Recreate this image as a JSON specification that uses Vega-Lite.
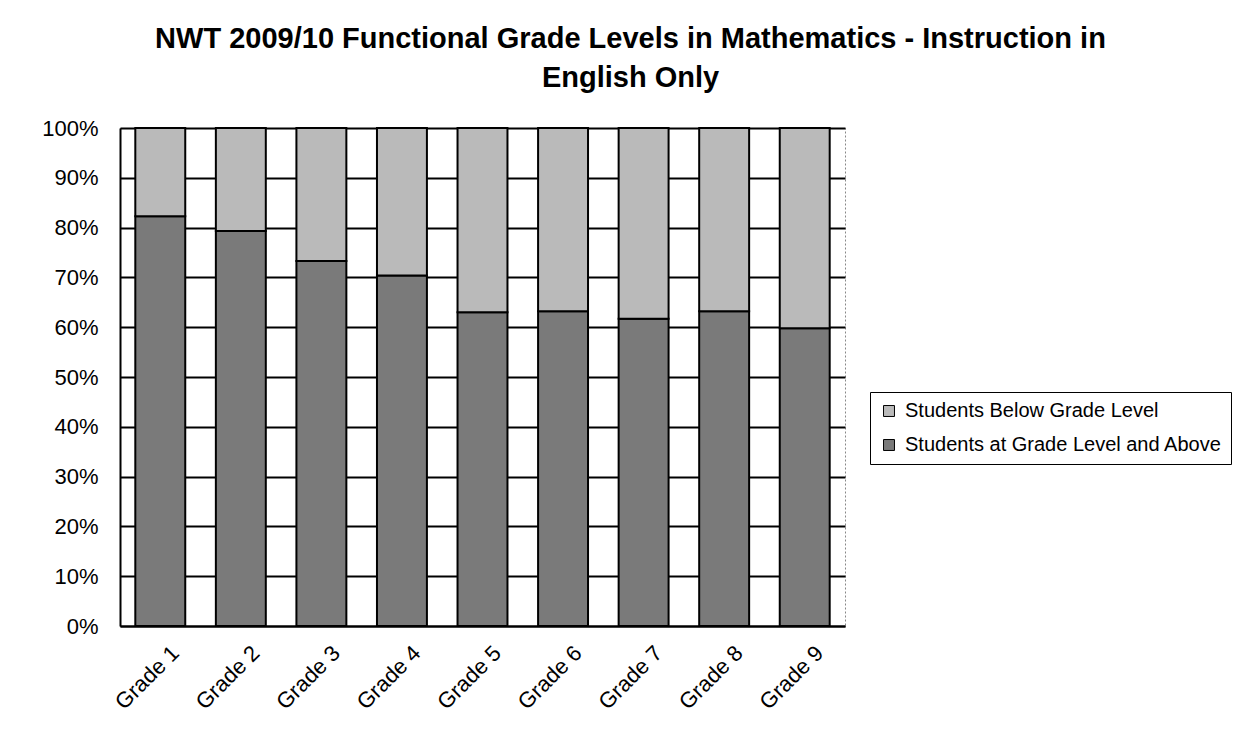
{
  "$schema": "https://vega.github.io/schema/vega-lite/v6.json",
  "autosize": "none",
  "width": 725,
  "height": 498,
  "padding": {"left": 120, "top": 128, "right": 393, "bottom": 127},
  "background": "white",
  "title": {
    "text": ["NWT 2009/10 Functional Grade Levels in Mathematics - Instruction in", "English Only"],
    "font": "Liberation Sans",
    "fontSize": 29,
    "fontWeight": "bold",
    "color": "black",
    "anchor": "middle",
    "frame": "group",
    "dx": 148,
    "lineHeight": 39,
    "offset": 24
  },
  "data": {
    "values": [
      {"grade": "Grade 1", "category": "Students at Grade Level and Above", "value": 0.823},
      {"grade": "Grade 1", "category": "Students Below Grade Level", "value": 0.177},
      {"grade": "Grade 2", "category": "Students at Grade Level and Above", "value": 0.793},
      {"grade": "Grade 2", "category": "Students Below Grade Level", "value": 0.207},
      {"grade": "Grade 3", "category": "Students at Grade Level and Above", "value": 0.733},
      {"grade": "Grade 3", "category": "Students Below Grade Level", "value": 0.267},
      {"grade": "Grade 4", "category": "Students at Grade Level and Above", "value": 0.704},
      {"grade": "Grade 4", "category": "Students Below Grade Level", "value": 0.296},
      {"grade": "Grade 5", "category": "Students at Grade Level and Above", "value": 0.63},
      {"grade": "Grade 5", "category": "Students Below Grade Level", "value": 0.37},
      {"grade": "Grade 6", "category": "Students at Grade Level and Above", "value": 0.632},
      {"grade": "Grade 6", "category": "Students Below Grade Level", "value": 0.368},
      {"grade": "Grade 7", "category": "Students at Grade Level and Above", "value": 0.617},
      {"grade": "Grade 7", "category": "Students Below Grade Level", "value": 0.383},
      {"grade": "Grade 8", "category": "Students at Grade Level and Above", "value": 0.632},
      {"grade": "Grade 8", "category": "Students Below Grade Level", "value": 0.368},
      {"grade": "Grade 9", "category": "Students at Grade Level and Above", "value": 0.598},
      {"grade": "Grade 9", "category": "Students Below Grade Level", "value": 0.402}
    ]
  },
  "mark": {"type": "bar", "stroke": "black", "strokeWidth": 2},
  "encoding": {
    "x": {
      "field": "grade",
      "type": "nominal",
      "title": null,
      "scale": {"paddingInner": 0.38, "paddingOuter": 0.19},
      "axis": {
        "labelAngle": -45,
        "labelFont": "Liberation Sans",
        "labelFontSize": 22,
        "labelColor": "black",
        "ticks": false,
        "domainColor": "black",
        "domainWidth": 2,
        "labelPadding": 16,
        "labelOffset": 8,
        "grid": false
      }
    },
    "y": {
      "field": "value",
      "type": "quantitative",
      "stack": "zero",
      "title": null,
      "scale": {"domain": [0, 1], "nice": false},
      "axis": {
        "format": ".0%",
        "values": [0, 0.1, 0.2, 0.3, 0.4, 0.5, 0.6, 0.7, 0.8, 0.9, 1],
        "labelFont": "Liberation Sans",
        "labelFontSize": 22,
        "labelColor": "black",
        "ticks": false,
        "labelPadding": 22,
        "domainColor": "black",
        "domainWidth": 2,
        "grid": true,
        "gridColor": "black",
        "gridWidth": 2,
        "gridOpacity": 1
      }
    },
    "color": {
      "field": "category",
      "type": "nominal",
      "scale": {
        "domain": ["Students Below Grade Level", "Students at Grade Level and Above"],
        "range": ["#bababa", "#7a7a7a"]
      },
      "legend": {
        "title": null,
        "orient": "none",
        "legendX": 750,
        "legendY": 264,
        "strokeColor": "black",
        "padding": 9,
        "symbolType": "square",
        "symbolSize": 120,
        "symbolStrokeColor": "black",
        "symbolStrokeWidth": 1,
        "labelFont": "Liberation Sans",
        "labelFontSize": 20,
        "labelColor": "black",
        "labelLimit": 500,
        "rowPadding": 14,
        "labelOffset": 6
      }
    },
    "order": {"field": "category", "sort": "descending"}
  },
  "config": {
    "view": {"stroke": "#888888", "strokeDash": [2, 2], "strokeWidth": 1}
  }
}
